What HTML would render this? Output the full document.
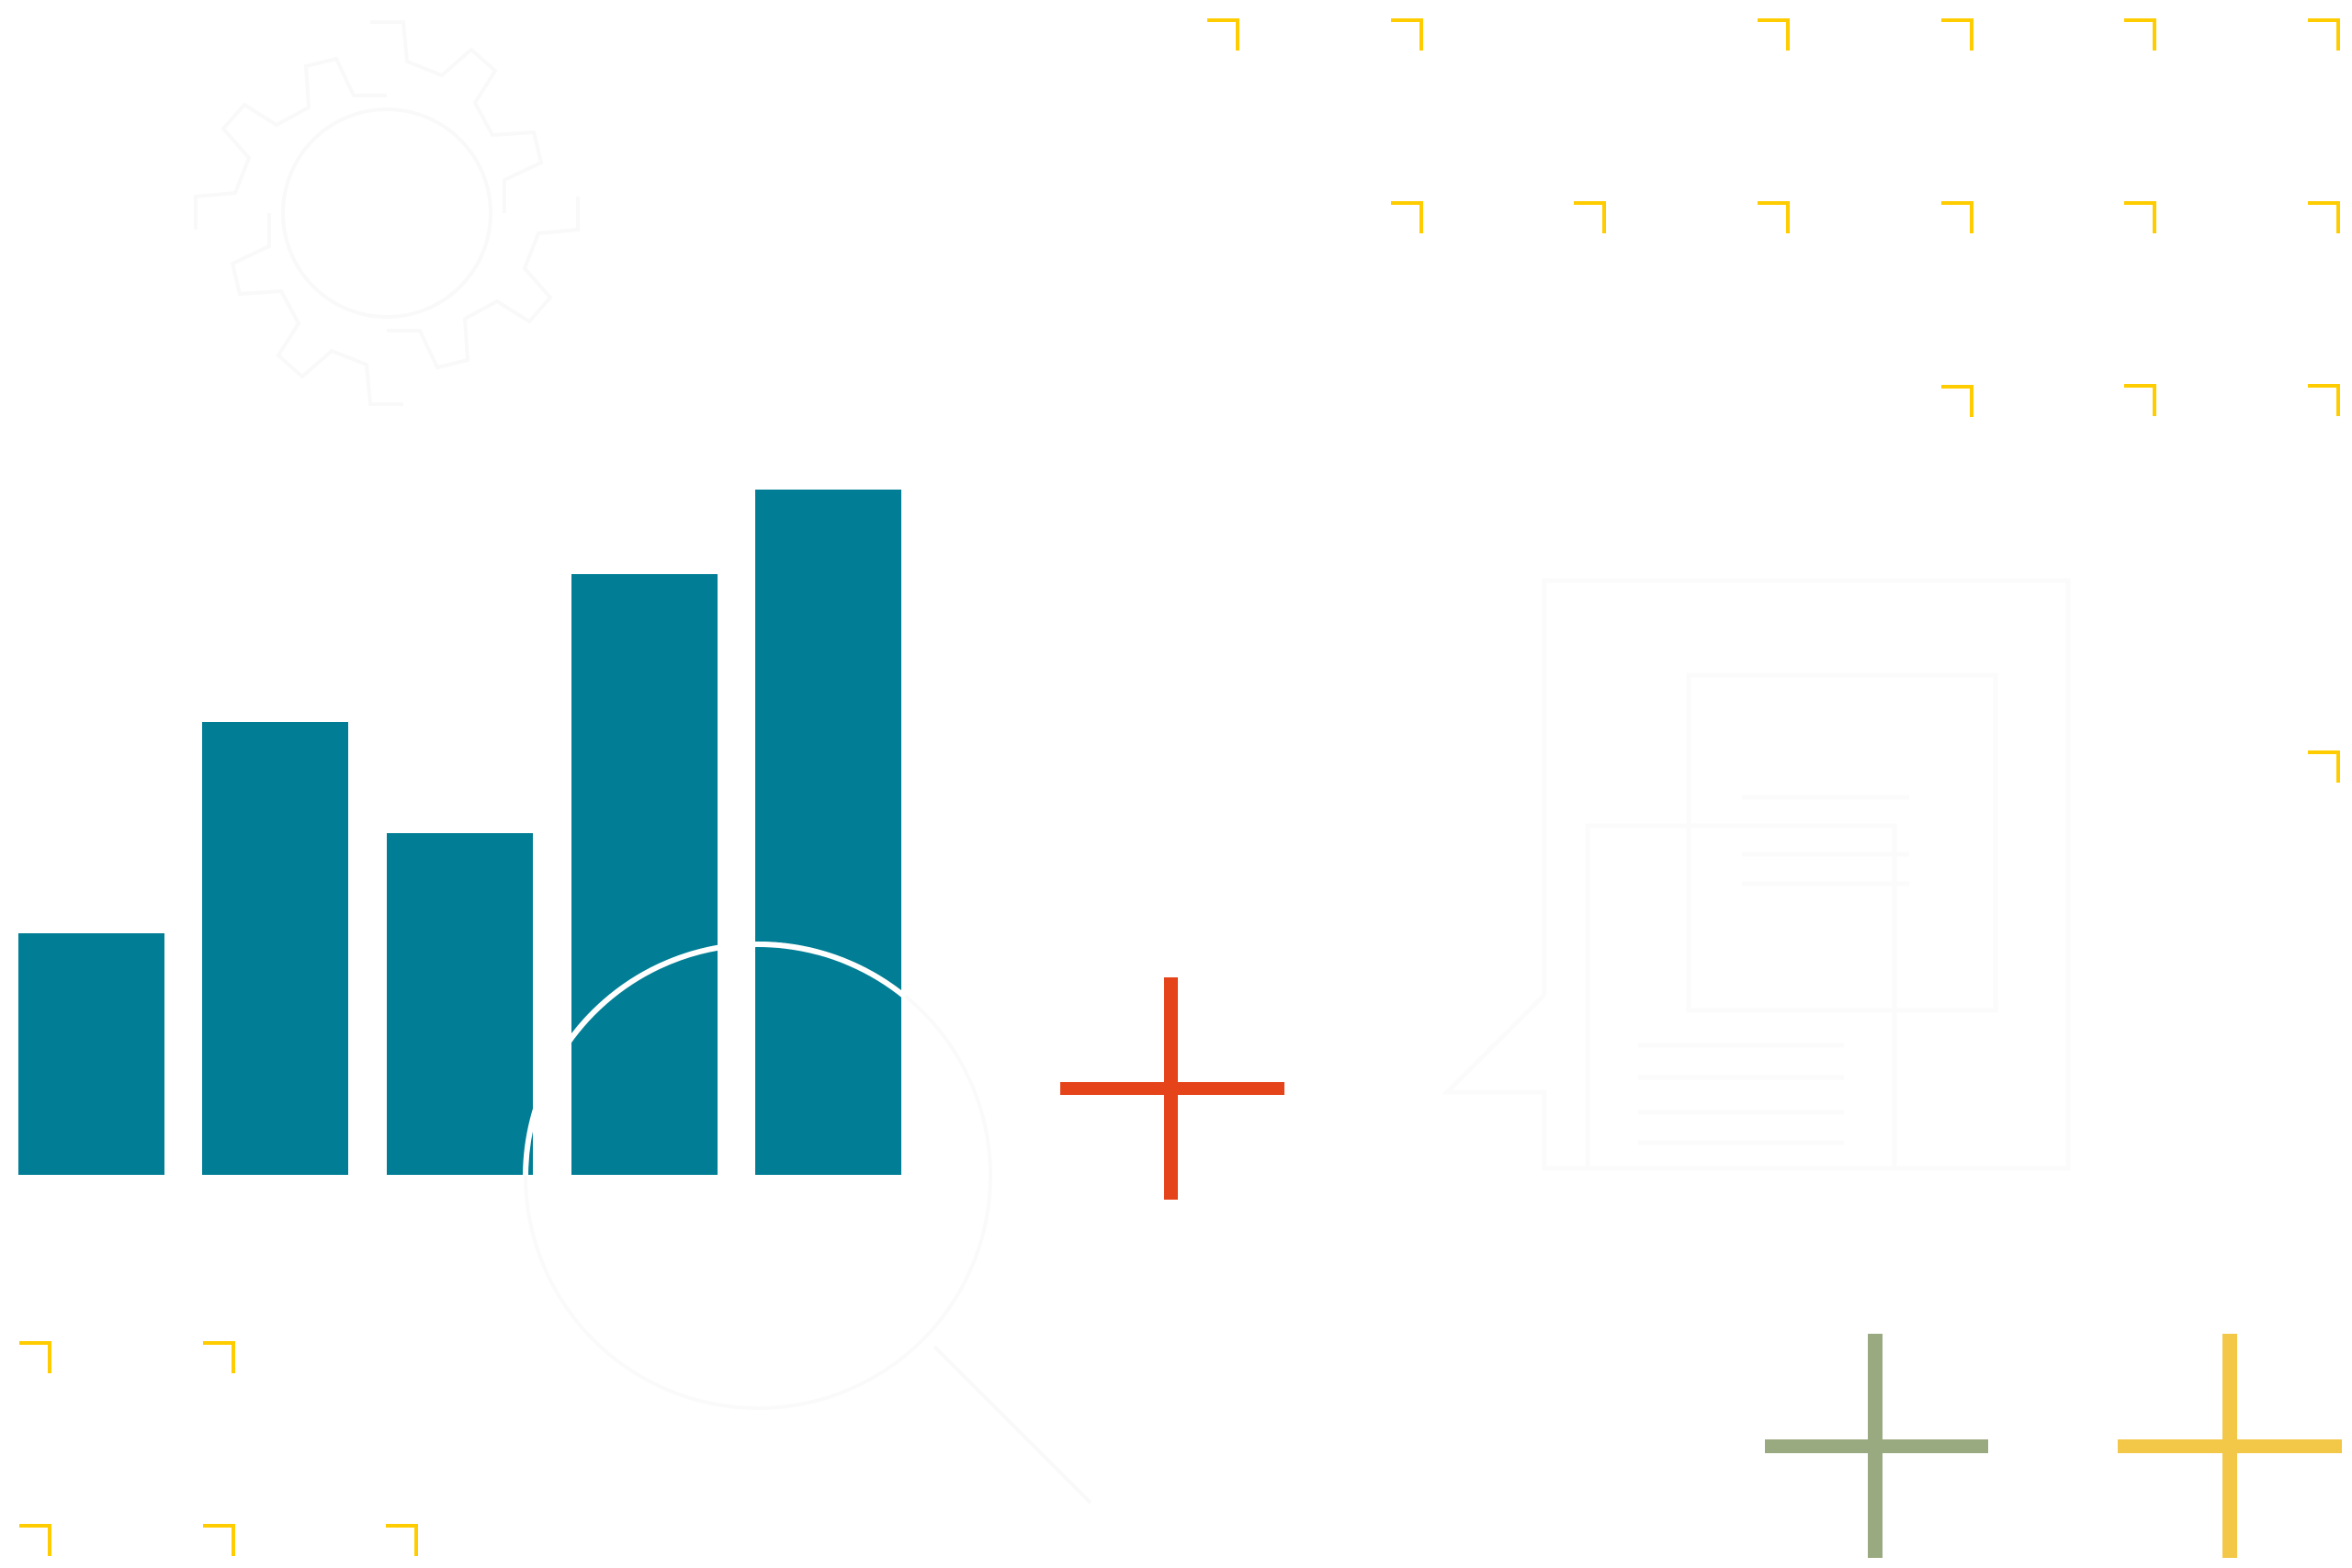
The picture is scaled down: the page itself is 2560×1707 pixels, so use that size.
<!DOCTYPE html>
<html><head><meta charset="utf-8"><style>
html,body{margin:0;padding:0;background:#fff;}
svg{display:block;}
</style></head><body>
<svg width="2560" height="1707" viewBox="0 0 2560 1707" xmlns="http://www.w3.org/2000/svg">
<rect width="2560" height="1707" fill="#fff"/>
<!-- faint gear -->
<g fill="none" stroke="#f9f9f9" stroke-width="4">
<circle cx="421" cy="232" r="113"/>
<g transform="translate(421,232)">
<path d="M-18,-208 L18,-208 L22,-165 L60,-150 L92,-178 L118,-155 L96,-120 L115,-85 L160,-88 L168,-55 L128,-36 L128,0" />
<path d="M-18,-208 L18,-208 L22,-165 L60,-150 L92,-178 L118,-155 L96,-120 L115,-85 L160,-88 L168,-55 L128,-36 L128,0" transform="rotate(90)"/>
<path d="M-18,-208 L18,-208 L22,-165 L60,-150 L92,-178 L118,-155 L96,-120 L115,-85 L160,-88 L168,-55 L128,-36 L128,0" transform="rotate(180)"/>
<path d="M-18,-208 L18,-208 L22,-165 L60,-150 L92,-178 L118,-155 L96,-120 L115,-85 L160,-88 L168,-55 L128,-36 L128,0" transform="rotate(270)"/>
</g>
</g>
<!-- faint document -->
<g fill="none" stroke="#fbfbfb" stroke-width="5">
<path d="M1681 1083 L1681 632 L2251 632 L2251 1272 L1681 1272 L1681 1189 L1575 1189 L1681 1083"/>
<rect x="1838" y="735" width="334" height="365"/>
<rect x="1728" y="899" width="334" height="373"/>
<line x1="1896" y1="868" x2="2078" y2="868"/>
<line x1="1896" y1="899" x2="2010" y2="899"/>
<line x1="1896" y1="930" x2="2078" y2="930"/>
<line x1="1896" y1="962" x2="2078" y2="962"/>
<line x1="1783" y1="1138" x2="2007" y2="1138"/>
<line x1="1783" y1="1173" x2="2007" y2="1173"/>
<line x1="1783" y1="1211" x2="2007" y2="1211"/>
<line x1="1783" y1="1244" x2="2007" y2="1244"/>
</g>
<!-- bars -->
<g fill="#017e95">
<rect x="20" y="1016" width="159" height="263"/>
<rect x="220" y="786" width="159" height="493"/>
<rect x="421" y="907" width="159" height="372"/>
<rect x="622" y="625" width="159" height="654"/>
<rect x="822" y="533" width="159" height="746"/>
</g>
<!-- magnifier -->
<circle cx="825" cy="1280" r="253" fill="none" stroke="#fafafa" stroke-width="4"/>
<path d="M 572 1280 A 253 253 0 0 1 985 1085" fill="none" stroke="#fff" stroke-width="6"/>
<line x1="1017" y1="1466" x2="1187" y2="1636" stroke="#f9f9f9" stroke-width="4"/>
<!-- pluses -->
<g fill="#e5431a">
<rect x="1267" y="1064" width="15" height="242"/>
<rect x="1154" y="1178" width="244" height="14"/>
</g>
<g fill="#9aaa80">
<rect x="2033" y="1452" width="16" height="244"/>
<rect x="1921" y="1567" width="243" height="15"/>
</g>
<g fill="#f3c748">
<rect x="2419" y="1452" width="16" height="244"/>
<rect x="2305" y="1567" width="244" height="15"/>
</g>
<!-- corner marks -->
<g fill="none" stroke="#ffcc00" stroke-width="4">
<path d="M1314 22h33v33"/>
<path d="M1514 22h33v33"/>
<path d="M1913 22h33v33"/>
<path d="M2113 22h33v33"/>
<path d="M2312 22h33v33"/>
<path d="M2512 22h33v33"/>
<path d="M1514 221h33v33"/>
<path d="M1713 221h33v33"/>
<path d="M1913 221h33v33"/>
<path d="M2113 221h33v33"/>
<path d="M2312 221h33v33"/>
<path d="M2512 221h33v33"/>
<path d="M2113 421h33v33"/>
<path d="M2312 420h33v33"/>
<path d="M2512 420h33v33"/>
<path d="M2512 819h33v33"/>
<path d="M21 1462h33v33"/>
<path d="M221 1462h33v33"/>
<path d="M21 1661h33v33"/>
<path d="M221 1661h33v33"/>
<path d="M420 1661h33v33"/>
</g>
</svg>
</body></html>
